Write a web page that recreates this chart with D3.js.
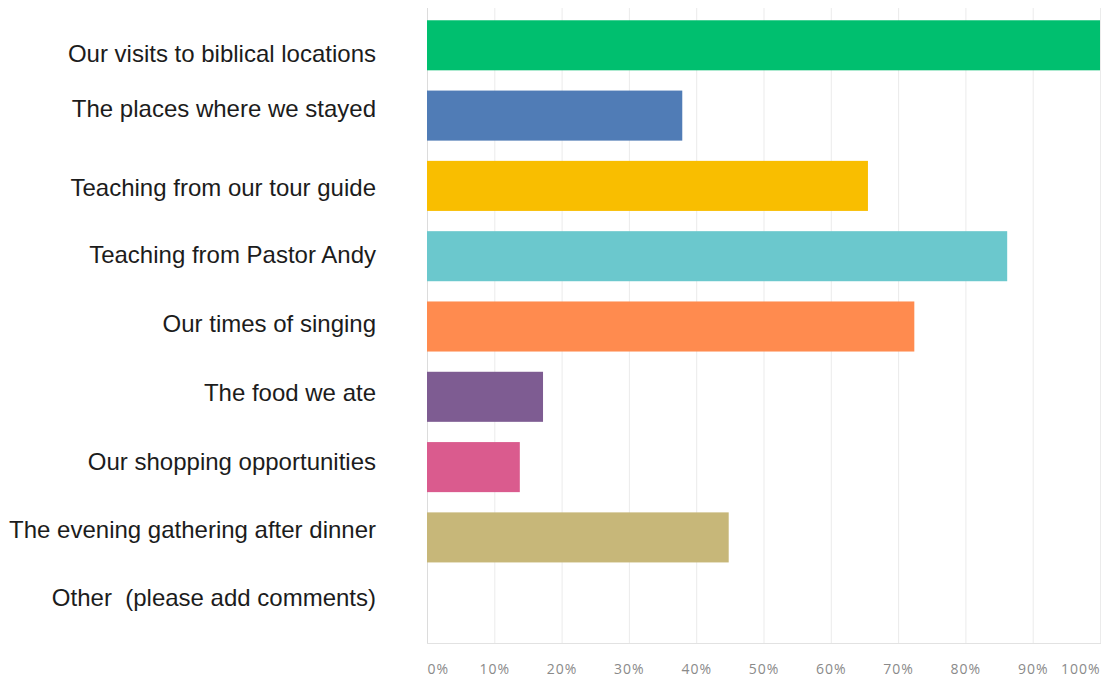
<!DOCTYPE html>
<html>
<head>
<meta charset="utf-8">
<script src="https://cdn.jsdelivr.net/npm/d3@7"></script>
<style>
  html, body { margin: 0; padding: 0; background: #ffffff; }
  svg { display: block; }
  .cat-label { white-space: pre; }
</style>
</head>
<body>
<svg id="chart" width="1103" height="679"></svg>
<script>
// Survey answers: share of respondents choosing each option (percent)
const categories = [
  "Our visits to biblical locations",
  "The places where we stayed",
  "Teaching from our tour guide",
  "Teaching from Pastor Andy",
  "Our times of singing",
  "The food we ate",
  "Our shopping opportunities",
  "The evening gathering after dinner",
  "Other  (please add comments)"
];
const percents = [100, 37.93, 65.52, 86.21, 72.41, 17.24, 13.79, 44.83, 0];
const barColors = ["#00bf6f", "#507cb6", "#f9be00", "#6bc8cd", "#ff8b4f",
                   "#7e5c92", "#da5b8e", "#c7b779", "#9a9a9a"];
const tickValues = [0, 10, 20, 30, 40, 50, 60, 70, 80, 90, 100];
const tickLabels = ["0%", "10%", "20%", "30%", "40%", "50%", "60%", "70%", "80%", "90%", "100%"];

const svg = d3.select("#chart");

const x = d3.scaleLinear().domain([0, 100]).range([427, 1100]);
const y = d3.scaleBand()
  .domain(categories)
  .range([10, 643])
  .paddingInner(0.288)
  .paddingOuter(0.146);

const plotTop = 8, plotBottom = 643;

// vertical grid lines
svg.append("g")
  .selectAll("line")
  .data(tickValues)
  .join("line")
  .attr("x1", d => x(d) + 0.5)
  .attr("x2", d => x(d) + 0.5)
  .attr("y1", plotTop)
  .attr("y2", plotBottom)
  .attr("stroke", d => d === 0 ? "#dcdcdc" : "#ebebeb")
  .attr("stroke-width", 1);

// baseline under the plot
svg.append("line")
  .attr("x1", x(0))
  .attr("x2", x(100) + 1)
  .attr("y1", plotBottom + 0.5)
  .attr("y2", plotBottom + 0.5)
  .attr("stroke", "#e2e2e2");

// bars
svg.append("g")
  .selectAll("rect")
  .data(categories)
  .join("rect")
  .attr("x", x(0))
  .attr("y", d => y(d))
  .attr("height", y.bandwidth())
  .attr("width", (d, i) => x(percents[i]) - x(0))
  .attr("fill", (d, i) => barColors[i]);

// category labels, right aligned left of the plot
const labelNudge = [16.5, 1, 10, 7, 5, 4, 2.5, 1, -2];
svg.append("g")
  .selectAll("text")
  .data(categories)
  .join("text")
  .attr("class", "cat-label")
  .attr("x", 376)
  .attr("y", (d, i) => y(d) + y.bandwidth() / 2 + labelNudge[i])
  .attr("text-anchor", "end")
  .attr("font-family", "'Liberation Sans', Arial, sans-serif")
  .attr("font-size", 24)
  .attr("fill", "#1c1c1c")
  .text(d => d);

// percentage axis
const axis = d3.axisBottom(x)
  .tickValues(tickValues)
  .tickFormat((d, i) => tickLabels[i])
  .tickSize(0)
  .tickPadding(0);

const gx = svg.append("g")
  .attr("transform", `translate(0,${plotBottom})`)
  .call(axis);

gx.select(".domain").remove();
gx.selectAll("text")
  .attr("y", 31)
  .attr("dy", 0)
  .attr("font-family", "'Open Sans', sans-serif")
  .attr("font-size", 14)
  .attr("letter-spacing", 1)
  .attr("fill", "#8a8a8a")
  .attr("text-anchor", (d, i) => i === 0 ? "start" : (i === tickValues.length - 1 ? "end" : "middle"));
</script>
</body>
</html>
